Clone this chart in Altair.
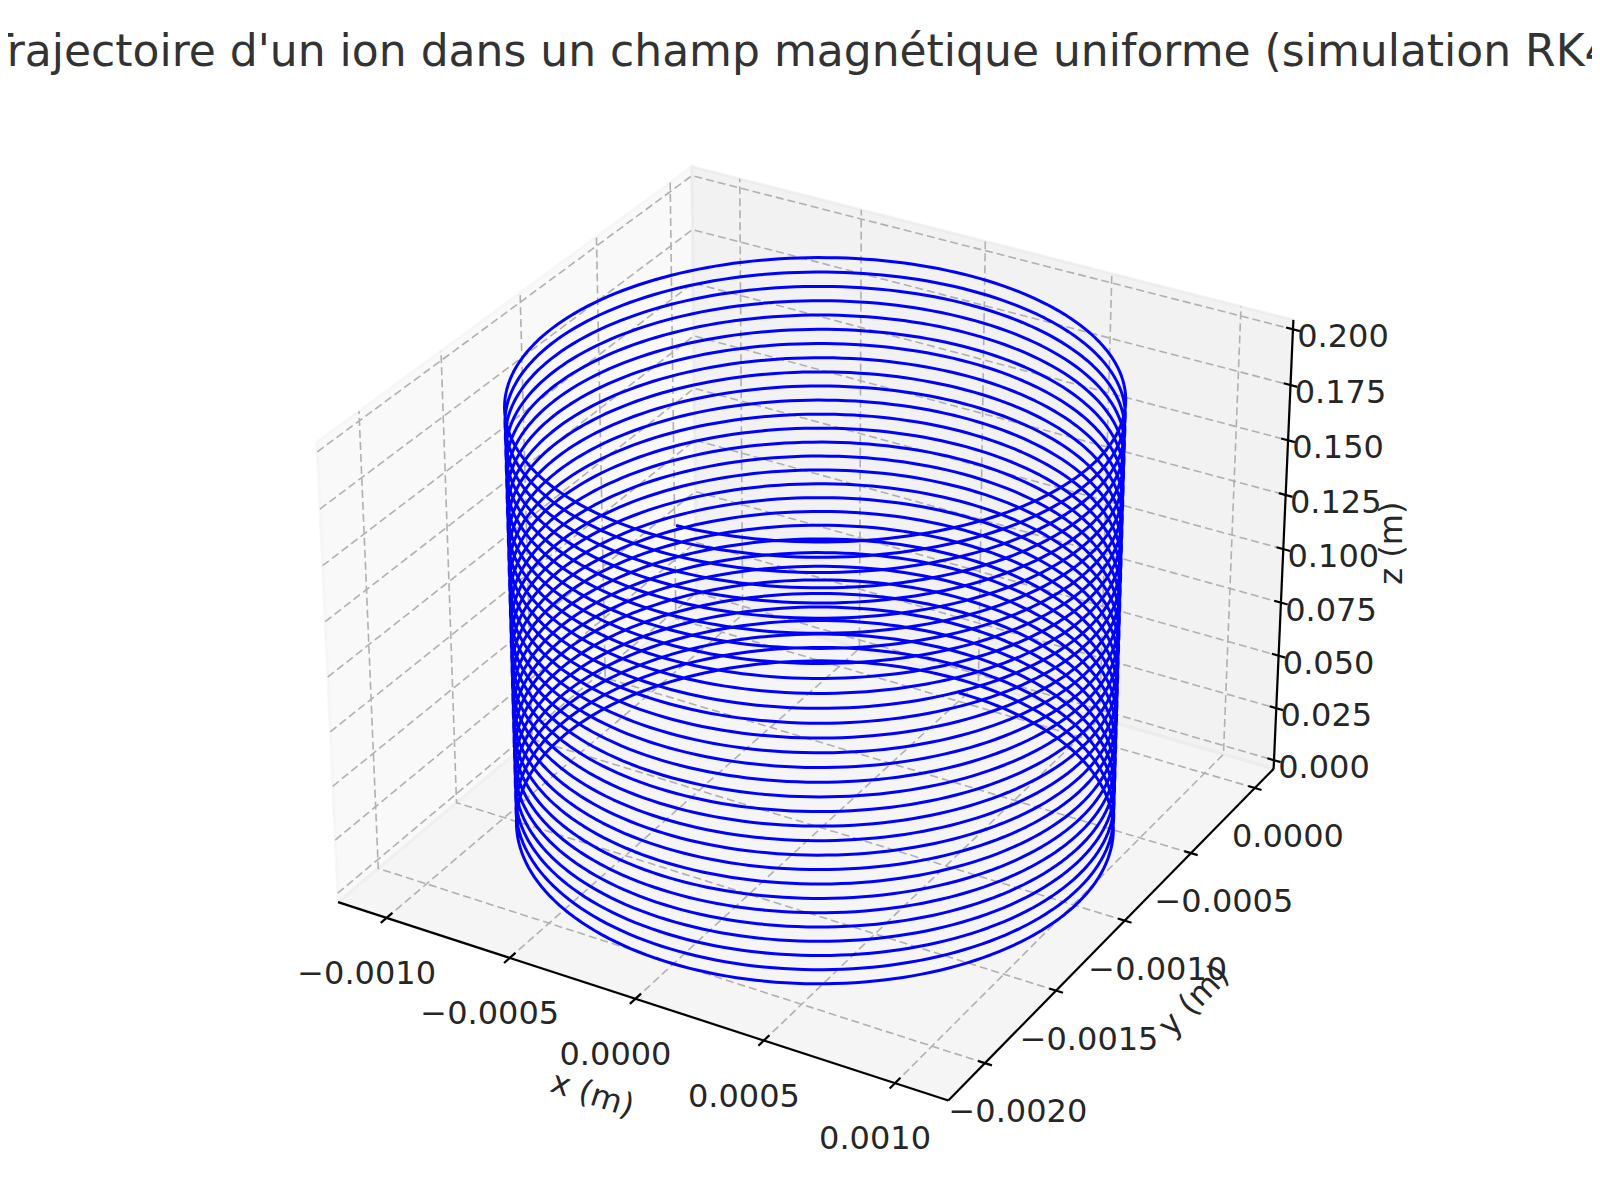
import numpy as np
import pandas as pd
import altair as alt

TITLE = "Trajectoire d'un ion dans un champ magnétique uniforme (simulation RK4)"

# ion (proton) in a uniform magnetic field, integrated with RK4
CHARGE = 1.602e-19      # C
MASS = 1.6726e-27       # kg
B_FIELD = [0.0, 0.0, 1.0]   # T
V_START = [1.0e5, 0.0, 1.0e5]  # m/s
R_START = [0.0, 0.0, 0.0]      # m
T_END = 2.0e-6          # s
N_STEPS = 6000

# axis ranges and ticks of the 3D box
XLIM = (-0.0012, 0.0012)
YLIM = (-0.00225, 0.00015)
ZLIM = (-0.0042, 0.2042)
X_TICKS = [-0.001, -0.0005, 0.0, 0.0005, 0.001]
Y_TICKS = [-0.002, -0.0015, -0.001, -0.0005, 0.0]
Z_TICKS = [0.0, 0.025, 0.05, 0.075, 0.1, 0.125, 0.15, 0.175, 0.2]

# view of the 3D axes (matplotlib defaults)
ELEV, AZIM, DIST = 30.0, -60.0, 10.0
BOX = np.array([4.0, 4.0, 3.0])
BOX = BOX * 1.8294640721620434 / np.linalg.norm(BOX)

W, H, MARGIN = 1584, 1184, 8


def accel(v):
    return CHARGE / MASS * np.cross(v, B_FIELD)


def simulate():
    dt = T_END / N_STEPS
    pos = np.zeros((N_STEPS + 1, 3))
    vel = np.zeros((N_STEPS + 1, 3))
    pos[0], vel[0] = R_START, V_START
    for k in range(N_STEPS):
        v = vel[k]
        k1v = accel(v)
        k1r = v
        k2v = accel(v + 0.5 * dt * k1v)
        k2r = v + 0.5 * dt * k1v
        k3v = accel(v + 0.5 * dt * k2v)
        k3r = v + 0.5 * dt * k2v
        k4v = accel(v + dt * k3v)
        k4r = v + dt * k3v
        vel[k + 1] = v + dt / 6 * (k1v + 2 * k2v + 2 * k3v + k4v)
        pos[k + 1] = pos[k] + dt / 6 * (k1r + 2 * k2r + 2 * k3r + k4r)
    return pos


def project(x, y, z):
    x, y, z = np.broadcast_arrays(np.asarray(x, float), np.asarray(y, float), np.asarray(z, float))
    world = np.stack([(x - XLIM[0]) / (XLIM[1] - XLIM[0]) * BOX[0],
                      (y - YLIM[0]) / (YLIM[1] - YLIM[0]) * BOX[1],
                      (z - ZLIM[0]) / (ZLIM[1] - ZLIM[0]) * BOX[2]], axis=-1)
    e, a = np.radians(ELEV), np.radians(AZIM)
    w = np.array([np.cos(e) * np.cos(a), np.cos(e) * np.sin(a), np.sin(e)])
    eye = 0.5 * BOX + DIST * w
    u = np.cross([0.0, 0.0, 1.0], w)
    u /= np.linalg.norm(u)
    v = np.cross(w, u)
    rel = world - eye
    depth = -(rel @ w)
    return (rel @ u) / depth, (rel @ v) / depth


X0, X1 = XLIM
Y0, Y1 = YLIM
Z0, Z1 = ZLIM

# box corners located in the reference picture, used to place the projection
ANCHORS = [((X0, Y0, Z0), (337, 901)), ((X1, Y0, Z0), (949, 1101)),
           ((X1, Y1, Z0), (1275, 768)), ((X1, Y1, Z1), (1293, 318)),
           ((X0, Y0, Z1), (316, 441)), ((X0, Y1, Z1), (692, 171))]

rows, rhs = [], []
for (cx, cy, cz), (px, py) in ANCHORS:
    PX, PY = project(cx, cy, cz)
    rows.append([float(PX), 1.0, 0.0]); rhs.append(px)
    rows.append([-float(PY), 0.0, 1.0]); rhs.append(py)
s, tx, ty = np.linalg.lstsq(np.array(rows), np.array(rhs), rcond=None)[0]
X_DOMAIN = [float((MARGIN - tx) / s), float((MARGIN + W - tx) / s)]
Y_DOMAIN = [float((ty - MARGIN - H) / s), float((ty - MARGIN) / s)]


def xq(f='X'):
    return alt.X(f + ':Q', scale=alt.Scale(domain=X_DOMAIN, nice=False, zero=False), axis=None)


def yq(f='Y'):
    return alt.Y(f + ':Q', scale=alt.Scale(domain=Y_DOMAIN, nice=False, zero=False), axis=None)


def lines_df(polys):
    out = []
    for gid, pts in enumerate(polys):
        pts = np.array(pts, float)
        PX, PY = project(pts[:, 0], pts[:, 1], pts[:, 2])
        for i in range(len(pts)):
            out.append({'id': gid, 'i': i, 'X': float(PX[i]), 'Y': float(PY[i])})
    return pd.DataFrame(out)


def band_df(corners):
    c = np.array(corners, float)
    PX, PY = project(c[:, 0], c[:, 1], c[:, 2])
    poly = list(zip(PX, PY))
    out = []
    for xv in sorted(set(PX)):
        ys = []
        for k in range(len(poly)):
            (xa, ya), (xb, yb) = poly[k], poly[(k + 1) % len(poly)]
            if min(xa, xb) - 1e-12 <= xv <= max(xa, xb) + 1e-12:
                if abs(xb - xa) < 1e-14:
                    ys += [ya, yb]
                else:
                    ys.append(ya + (yb - ya) * (xv - xa) / (xb - xa))
        out.append({'X': float(xv), 'Y': float(min(ys)), 'Y2': float(max(ys))})
    return pd.DataFrame(out)


def fmt(v, nd):
    t = f"{v:.{nd}f}"
    return t.replace('-', '\u2212')


panes = [
    ([(X0, Y0, Z0), (X0, Y1, Z0), (X0, Y1, Z1), (X0, Y0, Z1)], '#f9f9f9', '#f2f2f2'),
    ([(X0, Y1, Z0), (X1, Y1, Z0), (X1, Y1, Z1), (X0, Y1, Z1)], '#f2f2f2', '#e6e6e6'),
    ([(X0, Y0, Z0), (X1, Y0, Z0), (X1, Y1, Z0), (X0, Y1, Z0)], '#f5f5f5', '#ececec'),
]

layers = []
for corners, fill, edge in panes:
    layers.append(alt.Chart(band_df(corners)).mark_area(color=fill, opacity=1).encode(
        x=xq(), y=yq(), y2='Y2:Q'))
for corners, fill, edge in panes:
    layers.append(alt.Chart(lines_df([corners + [corners[0]]])).mark_line(
        color=edge, strokeWidth=2.8, opacity=0.5).encode(
        x=xq(), y=yq(), order='i:Q'))

grid = []
for v in X_TICKS:
    grid.append([(v, Y0, Z0), (v, Y1, Z0), (v, Y1, Z1)])
for v in Y_TICKS:
    grid.append([(X1, v, Z0), (X0, v, Z0), (X0, v, Z1)])
for v in Z_TICKS:
    grid.append([(X0, Y0, v), (X0, Y1, v), (X1, Y1, v)])
layers.append(alt.Chart(lines_df(grid)).mark_line(
    color='#b0b0b0', strokeWidth=1.6, strokeDash=[8, 4]).encode(
    x=xq(), y=yq(), detail='id:N', order='i:Q'))

axes_lines = [[(X0, Y0, Z0), (X1, Y0, Z0)], [(X1, Y0, Z0), (X1, Y1, Z0)],
              [(X1, Y1, Z0), (X1, Y1, Z1)]]
layers.append(alt.Chart(lines_df(axes_lines)).mark_line(
    color='#000000', strokeWidth=2.2).encode(
    x=xq(), y=yq(), detail='id:N', order='i:Q'))

dx_t = 0.011 * (X1 - X0)
dy_t = 0.015 * (Y1 - Y0)
tick_rows = []
for v in X_TICKS:
    a = project(v, Y0 - dy_t, Z0); b = project(v, Y0 + dy_t, Z0)
    tick_rows.append({'X': float(a[0]), 'Y': float(a[1]), 'X2': float(b[0]), 'Y2': float(b[1])})
for v in Y_TICKS:
    a = project(X1 + dx_t, v, Z0); b = project(X1 - dx_t, v, Z0)
    tick_rows.append({'X': float(a[0]), 'Y': float(a[1]), 'X2': float(b[0]), 'Y2': float(b[1])})
for v in Z_TICKS:
    a = project(X1 + dx_t, Y1, v); b = project(X1 - dx_t, Y1, v)
    tick_rows.append({'X': float(a[0]), 'Y': float(a[1]), 'X2': float(b[0]), 'Y2': float(b[1])})
layers.append(alt.Chart(pd.DataFrame(tick_rows)).mark_rule(
    color='#000000', strokeWidth=2.2).encode(
    x=xq(), y=yq(), x2='X2:Q', y2='Y2:Q'))

traj = simulate()
HX, HY = project(traj[:, 0], traj[:, 1], traj[:, 2])
helix = pd.DataFrame({'i': np.arange(len(HX)), 'X': HX, 'Y': HY})
layers.append(alt.Chart(helix).mark_line(
    color='#0000ff', strokeWidth=3, strokeJoin='round').encode(
    x=xq(), y=yq(), order='i:Q'))


def label_layer(vals, pts, nd, dx, dy):
    PX, PY = project(*np.array(pts, float).T)
    df = pd.DataFrame({'X': PX, 'Y': PY, 'label': [fmt(v, nd) for v in vals]})
    return alt.Chart(df).mark_text(
        font='DejaVu Sans', fontSize=32, color='#262626', align='center',
        baseline='middle', dx=dx, dy=dy).encode(x=xq(), y=yq(), text='label:N')


layers.append(label_layer(X_TICKS, [(v, Y0, Z0) for v in X_TICKS], 4, -20, 56))
layers.append(label_layer(Y_TICKS, [(X1, v, Z0) for v in Y_TICKS], 4, 33, 49))
layers.append(label_layer(Z_TICKS, [(X1, Y1, v) for v in Z_TICKS], 3, 50, 8))

# axis titles: anchor at the middle of each axis, pushed outward by a pixel offset
axis_titles = [('x (m)', (0.0, Y0, Z0), -43, 96, 18),
               ('y (m)', (X1, 0.5 * (Y0 + Y1), Z0), 76, 73, -46),
               ('z (m)', (X1, Y1, 0.5 * (Z0 + Z1)), 109, -6, -90)]
for text, (ax_, ay_, az_), dx, dy, ang in axis_titles:
    PX, PY = project(ax_, ay_, az_)
    df = pd.DataFrame({'X': [float(PX) + dx / s], 'Y': [float(PY) - dy / s], 'label': [text]})
    layers.append(alt.Chart(df).mark_text(
        font='DejaVu Sans', fontSize=32, color='#262626', align='center',
        baseline='middle', angle=ang % 360).encode(x=xq(), y=yq(), text='label:N'))

layers.append(alt.Chart(pd.DataFrame({'t': [TITLE]})).mark_text(
    font='DejaVu Sans', fontSize=44, color='#333333', align='center',
    baseline='alphabetic').encode(x=alt.value(800), y=alt.value(58), text='t:N'))

chart = alt.layer(*layers).properties(
    width=W, height=H, padding=0,
    autosize=alt.AutoSizeParams(type='none'),
    background='white',
).configure_view(stroke=None)

chart.save("out.html", embed_options={"renderer": "svg", "actions": False})
